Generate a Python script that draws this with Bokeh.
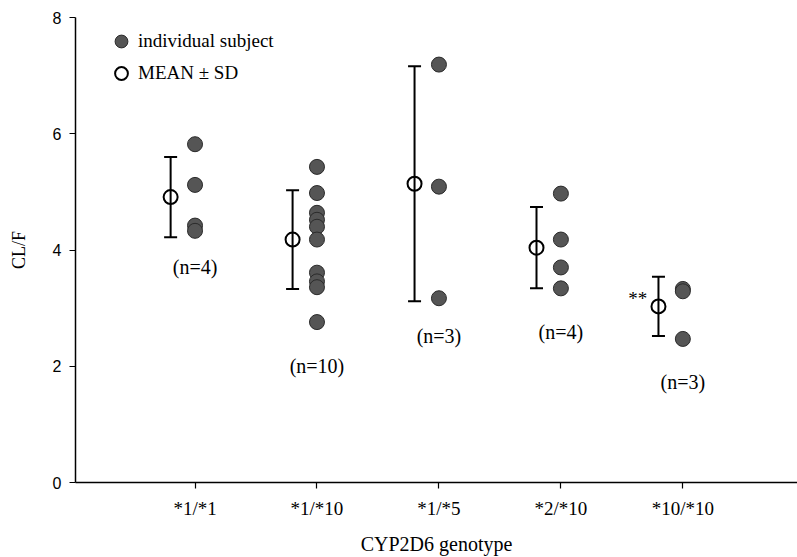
from bokeh.plotting import figure
from bokeh.models import (ColumnDataSource, Range1d, FixedTicker, Whisker, TeeHead,
                          Legend, LegendItem)
from bokeh.core.properties import value
from bokeh.embed import file_html
from bokeh.resources import INLINE

# ---- data ----
genotypes = ["*1/*1", "*1/*10", "*1/*5", "*2/*10", "*10/*10"]
subj_1_1 = [5.82, 5.12, 4.42, 4.33]
subj_1_10 = [5.43, 4.98, 4.64, 4.52, 4.40, 4.18, 3.61, 3.46, 3.36, 2.76]
subj_1_5 = [7.19, 5.09, 3.17]
subj_2_10 = [4.97, 4.18, 3.70, 3.34]
subj_10_10 = [3.33, 3.29, 2.47]
means = [4.91, 4.18, 5.14, 4.04, 3.03]
sds = [0.69, 0.85, 2.02, 0.70, 0.51]
n_labels = ["(n=4)", "(n=10)", "(n=3)", "(n=4)", "(n=3)"]
n_label_y = [3.70, 2.00, 2.52, 2.59, 1.73]
y_ticks = [0, 2, 4, 6, 8]

groups = [subj_1_1, subj_1_10, subj_1_5, subj_2_10, subj_10_10]
positions = list(range(1, len(genotypes) + 1))
mean_offset = -0.2

pts_x, pts_y = [], []
for pos, vals in zip(positions, groups):
    pts_x += [pos] * len(vals)
    pts_y += vals
pts_src = ColumnDataSource(dict(x=pts_x, y=pts_y))

mean_src = ColumnDataSource(dict(
    x=[p + mean_offset for p in positions],
    mean=means,
    upper=[m + s for m, s in zip(means, sds)],
    lower=[m - s for m, s in zip(means, sds)],
))
lab_src = ColumnDataSource(dict(x=positions, y=n_label_y, text=n_labels))

SERIF = "Liberation Serif"

p = figure(width=797, height=557, x_range=Range1d(0.02, 5.94), y_range=Range1d(0, 8),
           toolbar_location=None, output_backend="svg",
           min_border_left=75, min_border_right=0, min_border_top=17, min_border_bottom=73)
p.outline_line_color = None
p.xgrid.visible = False
p.ygrid.visible = False

# axes
p.xaxis.ticker = FixedTicker(ticks=positions)
p.xaxis.major_label_overrides = {pos: g for pos, g in zip(positions, genotypes)}
p.yaxis.ticker = FixedTicker(ticks=y_ticks)
for ax in (p.xaxis, p.yaxis):
    ax.axis_line_width = 1.5
    ax.axis_line_color = "black"
    ax.major_tick_line_color = "black"
    ax.major_tick_line_width = 1.2
    ax.major_tick_in = 0
    ax.major_tick_out = 6
    ax.minor_tick_line_color = None
    ax.axis_label_text_font_style = "normal"
    ax.axis_label_text_color = "black"
    ax.major_label_text_color = "black"
p.xaxis.major_label_text_font = SERIF
p.xaxis.major_label_text_font_size = "19px"
p.xaxis.major_label_standoff = 9
p.xaxis.axis_label = "CYP2D6 genotype"
p.xaxis.axis_label_text_font = SERIF
p.xaxis.axis_label_text_font_size = "20px"
p.xaxis.axis_label_standoff = 11
p.yaxis.major_label_text_font = "Liberation Sans"
p.yaxis.major_label_text_font_size = "16px"
p.yaxis.major_label_standoff = 8
p.yaxis.axis_label = "CL/F"
p.yaxis.axis_label_text_font = SERIF
p.yaxis.axis_label_text_font_size = "18px"
p.yaxis.axis_label_standoff = 21

# error bars
whisk = Whisker(source=mean_src, base="x", upper="upper", lower="lower",
                dimension="height", line_width=2, line_color="black",
                upper_head=TeeHead(size=13, line_width=2, line_color="black"),
                lower_head=TeeHead(size=13, line_width=2, line_color="black"))
p.add_layout(whisk)

pts_r = p.scatter("x", "y", source=pts_src, size=15, marker="circle",
                  fill_color="#555555", line_color="#2a2a2a", line_width=1)
mean_r = p.scatter("x", "mean", source=mean_src, size=14, marker="circle",
                   fill_color=None, line_color="black", line_width=2)

p.text(x="x", y="y", text="text", source=lab_src, text_font=value(SERIF),
       text_font_size="20px", text_align="center", text_baseline="middle",
       text_color="black")
p.text(x=[positions[-1] - 0.37], y=[3.17], text=["**"], text_font=value(SERIF),
       text_font_size="19px", text_align="center", text_baseline="middle",
       text_color="black")

legend = Legend(items=[LegendItem(label="individual subject", renderers=[pts_r]),
                       LegendItem(label="MEAN \u00b1 SD", renderers=[mean_r])],
                location=(29, 393), glyph_width=34, glyph_height=32, spacing=0,
                padding=0, margin=0, label_standoff=0,
                label_text_font=SERIF, label_text_font_size="19px",
                label_text_color="black",
                background_fill_alpha=0, border_line_alpha=0)
p.add_layout(legend)

open("out.html", "w").write(file_html(p, INLINE))
